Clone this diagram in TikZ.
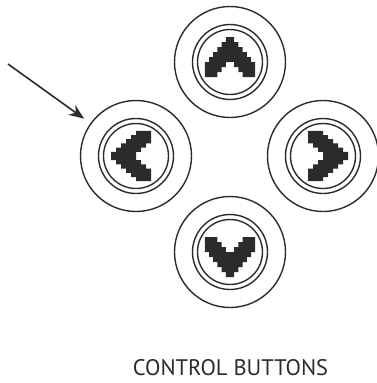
\documentclass[tikz,border=0pt]{standalone}
\usepackage{fontspec}
\setsansfont{PT Sans}
\usetikzlibrary{arrows.meta}

\definecolor{ink}{HTML}{2B2B2B}

\tikzset{
  chevron/.pic={
    \begin{scope}[shift={(0,-25)}, xscale=4.2, yscale=5]
      \fill[ink] (1,0) -- (-1,0) -- (-1,1) -- (-2,1) -- (-2,2) -- (-3,2) -- (-3,3) -- (-4,3)
        -- (-4,4) -- (-5,4) -- (-5,5) -- (-6,5) -- (-6,8) -- (-3,8) -- (-3,7) -- (-2,7)
        -- (-2,6) -- (-1,6) -- (-1,5) -- (1,5) -- (1,6) -- (2,6) -- (2,7) -- (3,7)
        -- (3,8) -- (6,8) -- (6,5) -- (5,5) -- (5,4) -- (4,4) -- (4,3) -- (3,3)
        -- (3,2) -- (2,2) -- (2,1) -- (1,1) -- cycle;
    \end{scope}
  }
}

\begin{document}
\begin{tikzpicture}[x=1pt,y=-1pt,
  ring/.style={circle, draw=ink, line width=1.4pt, inner sep=0pt, outer sep=0pt},
  btn/.style={ring, minimum size=111pt},
  rim/.style={ring, minimum size=75pt},
  core/.style={ring, minimum size=65pt},
  arr/.style={-{Stealth[length=15pt,width=12pt]}, draw=ink, line width=1.6pt},
  legend/.style={font=\sffamily\fontsize{22.5}{24}\selectfont, text=ink, anchor=base}
]
\useasboundingbox (0,0) rectangle (376,383);

% outer buttons
\node[btn] (up)    at (230,62)  {};
\node[btn] (left)  at (136,156) {};
\node[btn] (right) at (323,156) {};
\node[btn] (down)  at (230,252) {};

% double rings
\node[rim]  (uprim)    at (up)    {};
\node[core] (upcore)   at (up)    {};
\node[rim]  (leftrim)  at (left)  {};
\node[core] (leftcore) at (left)  {};
\node[rim]  (rightrim)  at (right) {};
\node[core] (rightcore) at (right) {};
\node[rim]  (downrim)  at (down)  {};
\node[core] (downcore) at (down)  {};

% arrow glyphs
\pic at (up)    {chevron};
\pic[rotate=90]  at (left)  {chevron};
\pic[rotate=-90] at (right) {chevron};
\pic[rotate=180] at (down)  {chevron};

% pointer
\coordinate (tail) at (8,64);
\draw[arr, shorten >=8.5pt] (tail) -- (left);

\node[legend] (title) at (230.5,375) {CONTROL BUTTONS};
\end{tikzpicture}
\end{document}
